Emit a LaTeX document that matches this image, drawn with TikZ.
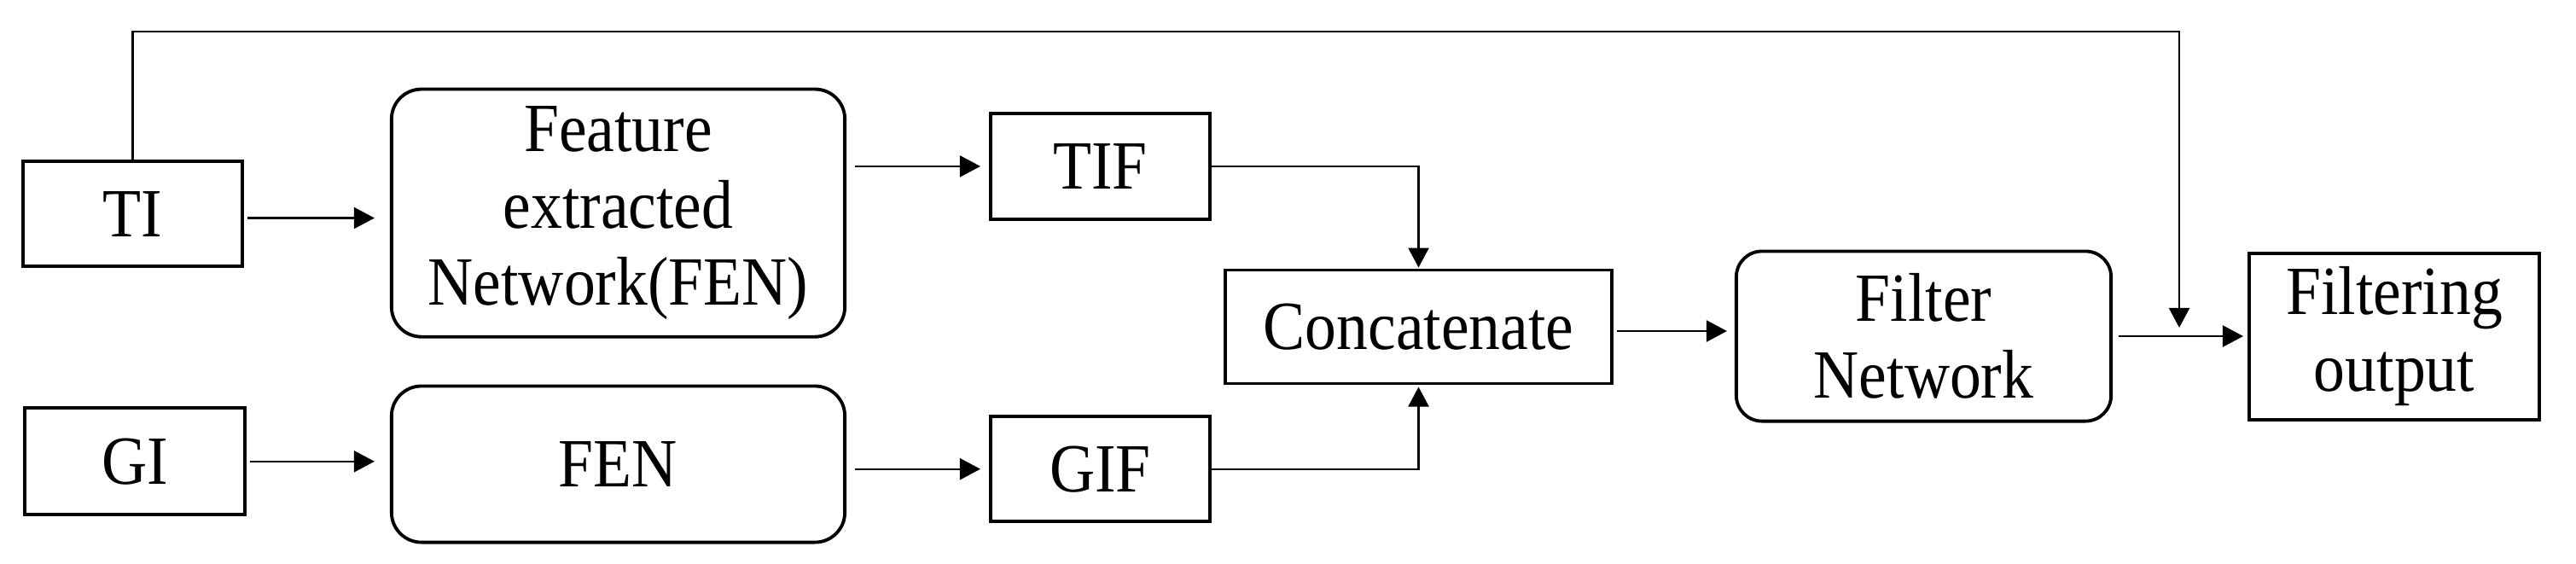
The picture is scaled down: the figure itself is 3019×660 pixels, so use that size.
\documentclass[tikz,border=0pt]{standalone}
\usepackage{fontspec}
\setmainfont{Liberation Serif}[FakeStretch=0.91]
\usetikzlibrary{arrows.meta}
\tikzset{
  box/.style={draw, line width=1.1pt, inner sep=0pt, align=center, font=\fontsize{23}{25.7}\selectfont},
  sq/.style={box},
  rbox/.style={box, rounded corners=0.35cm},
  conn/.style={line width=0.6pt},
  harr/.style={conn, -{Triangle[length=0.24cm,width=0.25cm]}},
  varr/.style={conn, -{Triangle[length=0.23cm,width=0.24cm]}},
}
\begin{document}
\begin{tikzpicture}[x=0.01cm,y=-0.01cm]
\useasboundingbox (0,0) rectangle (3019,660);
\node[sq, minimum width=2.57cm, minimum height=1.23cm] (TI) at (155.5,250.8) {TI};
\node[rbox, minimum width=5.31cm, minimum height=2.90cm] (FEN1) at (724.5,249.6) {Feature\\extracted\\Network(FEN)};
\node[sq, minimum width=2.58cm, minimum height=1.25cm] (GI) at (158,540.8) {GI};
\node[rbox, minimum width=5.31cm, minimum height=1.83cm] (FEN2) at (724.5,544) {FEN};
\node[sq, minimum width=2.57cm, minimum height=1.24cm] (TIF) at (1289.5,194.9) {TIF};
\node[sq, minimum width=2.57cm, minimum height=1.23cm] (GIF) at (1289.5,549.7) {GIF};
\node[sq, minimum width=4.53cm, minimum height=1.33cm] (CAT) at (1662.5,383) {Concatenate};
\node[rbox, rounded corners=0.3cm, minimum width=4.39cm, minimum height=1.99cm] (FN) at (2254.5,394) {Filter\\Network};
\node[sq, minimum width=3.40cm, minimum height=1.95cm] (OUT) at (2806,394.2) {Filtering\\output};
\coordinate (a1) at ([shift={(4,4.7)}]TI.east);
\draw[harr, shorten >=0.18cm] (a1) -- (a1 -| FEN1.west);
\draw[harr, shorten <=0.04cm, shorten >=0.18cm] (GI.east) -- (GI.east -| FEN2.west);
\draw[harr, shorten <=0.1cm, shorten >=0.1cm] (FEN1.east |- TIF.west) -- (TIF.west);
\draw[harr, shorten <=0.1cm, shorten >=0.1cm] (FEN2.east |- GIF.west) -- (GIF.west);
\draw[varr, shorten >=0.01cm] (TIF.east) -| (CAT.north);
\draw[varr, shorten >=0.02cm] (GIF.east) -| (CAT.south);
\coordinate (c1) at ([shift={(4,5)}]CAT.east);
\draw[harr, shorten >=0.09cm] (c1) -- (c1 -| FN.west);
\draw[harr, shorten <=0.07cm, shorten >=0.05cm] (FN.east) -- (FN.east -| OUT.west);
\coordinate (top) at (2554,37);
\draw[varr, shorten >=0.1cm] (TI.north) |- (top) -- (top |- FN.east);
\end{tikzpicture}
\end{document}
